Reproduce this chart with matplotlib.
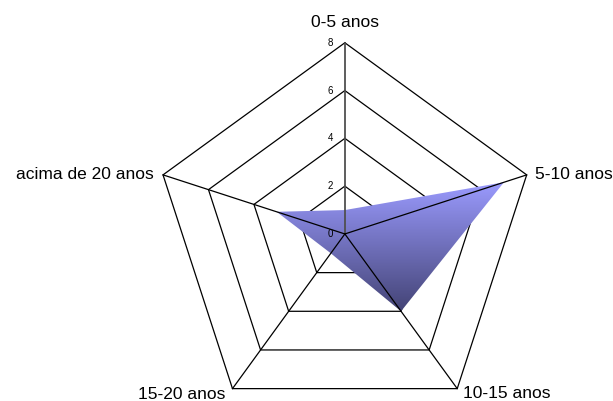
import matplotlib.pyplot as plt
import numpy as np
from matplotlib.patches import Polygon

plt.rcParams['font.family'] = ['Liberation Sans', 'DejaVu Sans']

categories = ['0-5 anos', '5-10 anos', '10-15 anos', '15-20 anos', 'acima de 20 anos']
values = [1, 7, 4, 1, 3]
rings = [2, 4, 6, 8]
tick_labels = ['0', '2', '4', '6', '8']

n = len(categories)
angles = np.pi / 2 - np.arange(n) * 2 * np.pi / n

def to_xy(r, a):
    return np.cos(a) * r, np.sin(a) * r

fig = plt.figure(figsize=(6.13, 4.01), dpi=100)
ax = fig.add_axes([0, 0, 1, 1])
ax.set_xlim(-14.43, 11.22)
ax.set_ylim(-6.99, 9.79)
ax.axis('off')

# pentagon rings sit underneath the filled area
for r in rings:
    gx, gy = to_xy(r, np.append(angles, angles[0]))
    ax.plot(gx, gy, color='black', lw=0.9, zorder=1)

# gradient-filled data polygon
px, py = to_xy(np.array(values, float), angles)
poly = Polygon(np.column_stack([px, py]), closed=True, facecolor='none', edgecolor='none')
ax.add_patch(poly)
top = np.array([155, 155, 255]) / 255
bot = np.array([68, 68, 118]) / 255
t = np.linspace(0, 1, 256)[:, None]
grad = (top[None, :] * (1 - t) + bot[None, :] * t)[:, None, :]
im = ax.imshow(grad, extent=[px.min(), px.max(), py.min(), py.max()],
               origin='upper', aspect='auto', zorder=2)
im.set_clip_path(poly)

# spokes drawn over the fill
for i, a in enumerate(angles):
    sx, sy = to_xy(rings[-1], a)
    if i == 0:
        ax.plot([0, sx], [0, sy], color='#505050', lw=1.3, zorder=3)
    else:
        ax.plot([0, sx], [0, sy], color='black', lw=0.9, zorder=3)

# value ticks along the first spoke
for i, lab in enumerate(tick_labels):
    ax.text(-0.5, i * 2, lab, fontsize=7, ha='right', va='center', zorder=4)

# category labels
offsets = [(0, 0.55, 'center', 'bottom'),
           (0.35, 0, 'left', 'center'),
           (0.25, -0.2, 'left', 'center'),
           (-0.3, -0.25, 'right', 'center'),
           (-0.4, 0, 'right', 'center')]
for cat, a, (dx, dy, ha, va) in zip(categories, angles, offsets):
    lx, ly = to_xy(rings[-1], a)
    ax.text(lx + dx, ly + dy, cat, fontsize=12.5, ha=ha, va=va)

fig.savefig('out.png', dpi=100)
